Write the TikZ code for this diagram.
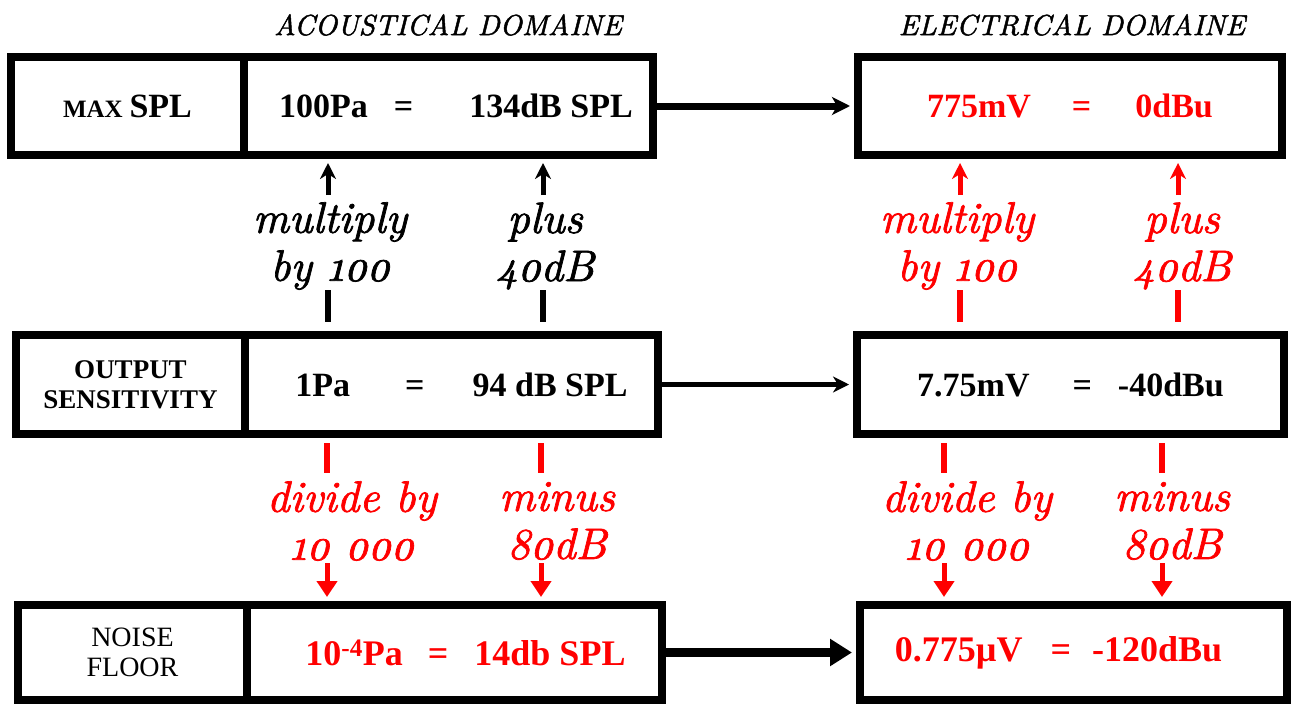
\documentclass[tikz,border=0pt]{standalone}
\usepackage{fontspec}
\setmainfont{Liberation Serif}
\newfontfamily\maofont{lmroman10-italic.otf}[Numbers=OldStyle, FakeBold=1.6]
\usetikzlibrary{arrows.meta}

\tikzset{
  caixa/.style={draw, line width=8pt, inner sep=0pt, font=\bfseries\fontsize{34}{38}\selectfont},
  rotulo/.style={caixa, font=\bfseries\fontsize{27}{30}\selectfont, align=center},
  seta/.style={line width=5pt, -{Stealth[length=16pt,width=16pt,inset=5pt]}},
  setab/.style={line width=5pt, -{Triangle[length=16pt,width=20pt]}},
  toco/.style={line width=6pt},
  texto/.style={font=\maofont\fontsize{44}{48}\selectfont, align=center},
  dominio/.style={font=\maofont\fontsize{29}{30}\selectfont}
}

\begin{document}
\begin{tikzpicture}[thick, x=1pt, y=-1pt]
\useasboundingbox (0,0) rectangle (1297,720);

% domínios
\node[dominio] (acust) at (448,25) {ACOUSTICAL DOMAINE};
\node[dominio] (elet) at (1072,25) {ELECTRICAL DOMAINE};

% linha 1
\node[rotulo, minimum width=233pt, minimum height=98pt] (max) at (127.5,106)
  {{\fontsize{25}{28}\selectfont MAX} \fontsize{34}{38}\selectfont SPL};
\node[caixa, minimum width=409pt, minimum height=98pt] (maxac) at (448.5,106)
  {\hspace*{15pt}100Pa\hspace{26pt}=\hspace{56pt}134dB SPL};
\node[caixa, text=red, minimum width=424pt, minimum height=98pt] (maxel) at (1070,106)
  {775mV\hspace{41pt}=\hspace{44pt}0dBu};

% linha 2
\node[rotulo, minimum width=229pt, minimum height=99pt] (sens) at (130.5,384.5)
  {OUTPUT\\SENSITIVITY};
\node[caixa, minimum width=413pt, minimum height=99pt] (sensac) at (451.5,384.5)
  {\hspace*{20pt}1Pa\hspace{55pt}=\hspace{48pt}94 dB SPL};
\node[caixa, minimum width=427pt, minimum height=99pt] (sensel) at (1070.5,384.5)
  {7.75mV\hspace{43pt}=\hspace{26pt}-40dBu};

% linha 3
\node[rotulo, font=\fontsize{28}{30}\selectfont, minimum width=229pt, minimum height=95pt] (ruido) at (132.5,652.5)
  {NOISE\\FLOOR};
\node[caixa, text=red, font=\bfseries\fontsize{36}{40}\selectfont, minimum width=415pt, minimum height=95pt] (ruidoac) at (454.5,652.5)
  {\hspace*{22pt}10\textsuperscript{-4}Pa\hspace{25pt}=\hspace{26pt}14db SPL};
\node[caixa, text=red, font=\bfseries\fontsize{36}{40}\selectfont, minimum width=427pt, minimum height=95pt] (ruidoel) at (1073.5,652.5)
  {0.775µV\hspace{28pt}=\hspace{21pt}-120dBu\hspace*{30pt}};

% setas entre domínios
\draw[line width=7pt, -{Stealth[length=18pt,width=18pt,inset=5pt]}, shorten >=4pt] (maxac.east) -- (maxel.west);
\draw[line width=5pt, -{Stealth[length=16pt,width=16pt,inset=5pt]}, shorten >=4pt] (sensac.east) -- (sensel.west);
\draw[line width=9pt, -{Triangle[length=22pt,width=26pt]}, shorten >=4pt] (ruidoac.east) -- (ruidoel.west);

% textos das setas
\node[texto] (mult1) at (330,246) {multiply\\by 100};
\node[texto] (mais1) at (545,246) {plus\\40dB};
\node[texto, red] (mult2) at (957,246) {multiply\\by 100};
\node[texto, red] (mais2) at (1182,246) {plus\\40dB};
\node[texto, red] (div1) at (352,521) {divide by\\10 000};
\node[texto, red] (menos1) at (557,521) {minus\\80dB};
\node[texto, red] (div2) at (967,521) {divide by\\10 000};
\node[texto, red] (menos2) at (1172,521) {minus\\80dB};

% para cima
\foreach \x/\c/\b in {328/black/maxac, 543/black/maxac, 960/red/maxel, 1178/red/maxel} {
  \coordinate (p) at (\x,195);
  \coordinate (q1) at (\x,290);
  \coordinate (q2) at (\x,322);
  \draw[seta, \c, shorten >=4pt] (p) -- (p |- \b.south);
  \draw[toco, \c] (q1) -- (q2);
}

% para baixo
\foreach \x/\b in {327/ruidoac, 541/ruidoac, 944/ruidoel, 1162/ruidoel} {
  \coordinate (s) at (\x,563);
  \coordinate (t1) at (\x,443);
  \coordinate (t2) at (\x,473);
  \draw[toco, red] (t1) -- (t2);
  \draw[setab, red, shorten >=4pt] (s) -- (s |- \b.north);
}

\end{tikzpicture}
\end{document}
